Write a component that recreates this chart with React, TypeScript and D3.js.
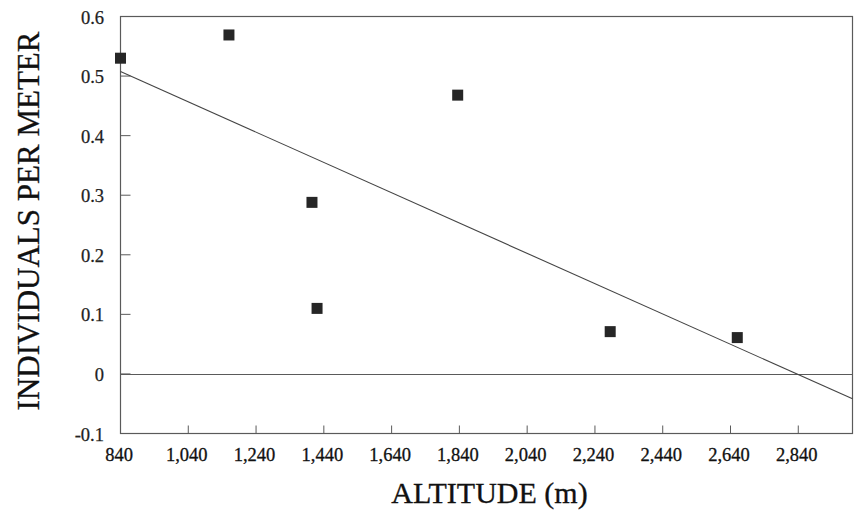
import React from "react";
import * as d3 from "d3";

const altitudes = [840, 1160, 1405, 1420, 1835, 2285, 2660];
const individuals = [0.53, 0.569, 0.288, 0.11, 0.468, 0.071, 0.061];
const xTicks = [840, 1040, 1240, 1440, 1640, 1840, 2040, 2240, 2440, 2640, 2840];
const yTicks = [-0.1, 0, 0.1, 0.2, 0.3, 0.4, 0.5, 0.6];
const xDomain = [840, 3000];
const yDomain = [-0.1, 0.6];

const W = 854;
const H = 511;
const left = 120.5;
const right = 852.5;
const top = 16.5;
const bottom = 433.5;

export default function App() {
  const x = d3.scaleLinear().domain(xDomain).range([left, right]);
  const y = d3.scaleLinear().domain(yDomain).range([bottom, top]);

  const mx = d3.mean(altitudes) as number;
  const my = d3.mean(individuals) as number;
  let sxy = 0;
  let sxx = 0;
  altitudes.forEach((a, i) => {
    sxy += (a - mx) * (individuals[i] - my);
    sxx += (a - mx) * (a - mx);
  });
  const slope = sxy / sxx;
  const intercept = my - slope * mx;
  const fit = (v: number) => intercept + slope * v;
  const linePath = d3.line<number>().x((d) => x(d)).y((d) => y(fit(d)))(xDomain) || "";

  const fmt = d3.format(",");
  const axisColor = "#5a5a5a";
  const font = "'Liberation Serif', 'Times New Roman', serif";
  const sq = 11;

  return (
    <div style={{ position: "fixed", left: 0, top: 0, width: W, height: H, background: "#fff" }}>
      <svg width={W} height={H} style={{ display: "block" }}>
        <rect x={0} y={0} width={W} height={H} fill="#fff" />
        <rect
          x={left}
          y={top}
          width={right - left}
          height={bottom - top}
          fill="none"
          stroke={axisColor}
          strokeWidth={1.2}
        />
        {/* zero line */}
        <line x1={left} x2={right} y1={Math.round(y(0)) + 0.5} y2={Math.round(y(0)) + 0.5} stroke={axisColor} strokeWidth={1.2} />
        {/* y ticks */}
        {yTicks.map((t) => (
          <g key={"y" + t}>
            {t > -0.1 && t < 0.6 && (
              <line x1={left} x2={left + 10} y1={y(t)} y2={y(t)} stroke={axisColor} strokeWidth={1} />
            )}
            <text
              x={104}
              y={y(t) + 1}
              textAnchor="end"
              dominantBaseline="central"
              fontFamily={font}
              fontSize={18.5}
              fill="#222"
              stroke="#222"
              strokeWidth={0.25}
            >
              {t === 0 ? "0" : t.toFixed(1)}
            </text>
          </g>
        ))}
        {/* x ticks */}
        {xTicks.map((t) => (
          <g key={"x" + t}>
            {t > xDomain[0] && (
              <line x1={x(t)} x2={x(t)} y1={bottom} y2={bottom - 8} stroke={axisColor} strokeWidth={1} />
            )}
            <text
              x={x(t) - 1.5}
              y={455}
              textAnchor="middle"
              dominantBaseline="central"
              fontFamily={font}
              fontSize={18.5}
              fill="#111"
              stroke="#111"
              strokeWidth={0.3}
            >
              {fmt(t)}
            </text>
          </g>
        ))}
        {/* regression line */}
        <path d={linePath} fill="none" stroke="#444" strokeWidth={1.1} />
        {/* points */}
        {altitudes.map((a, i) => (
          <rect
            key={"p" + i}
            x={x(a) - sq / 2}
            y={y(individuals[i]) - sq / 2}
            width={sq}
            height={sq}
            fill="#262626"
          />
        ))}
        {/* axis titles */}
        <text
          x={(left + right) / 2 + 3}
          y={492}
          textAnchor="middle"
          dominantBaseline="central"
          fontFamily={font}
          fontSize={30}
          fill="#111"
          stroke="#111"
          strokeWidth={0.3}
        >
          ALTITUDE (m)
        </text>
        <text
          transform={`translate(28, ${221}) rotate(-90)`}
          textAnchor="middle"
          dominantBaseline="central"
          fontFamily={font}
          fontSize={31}
          fill="#111"
          stroke="#111"
          strokeWidth={0.3}
        >
          INDIVIDUALS PER METER
        </text>
      </svg>
    </div>
  );
}
